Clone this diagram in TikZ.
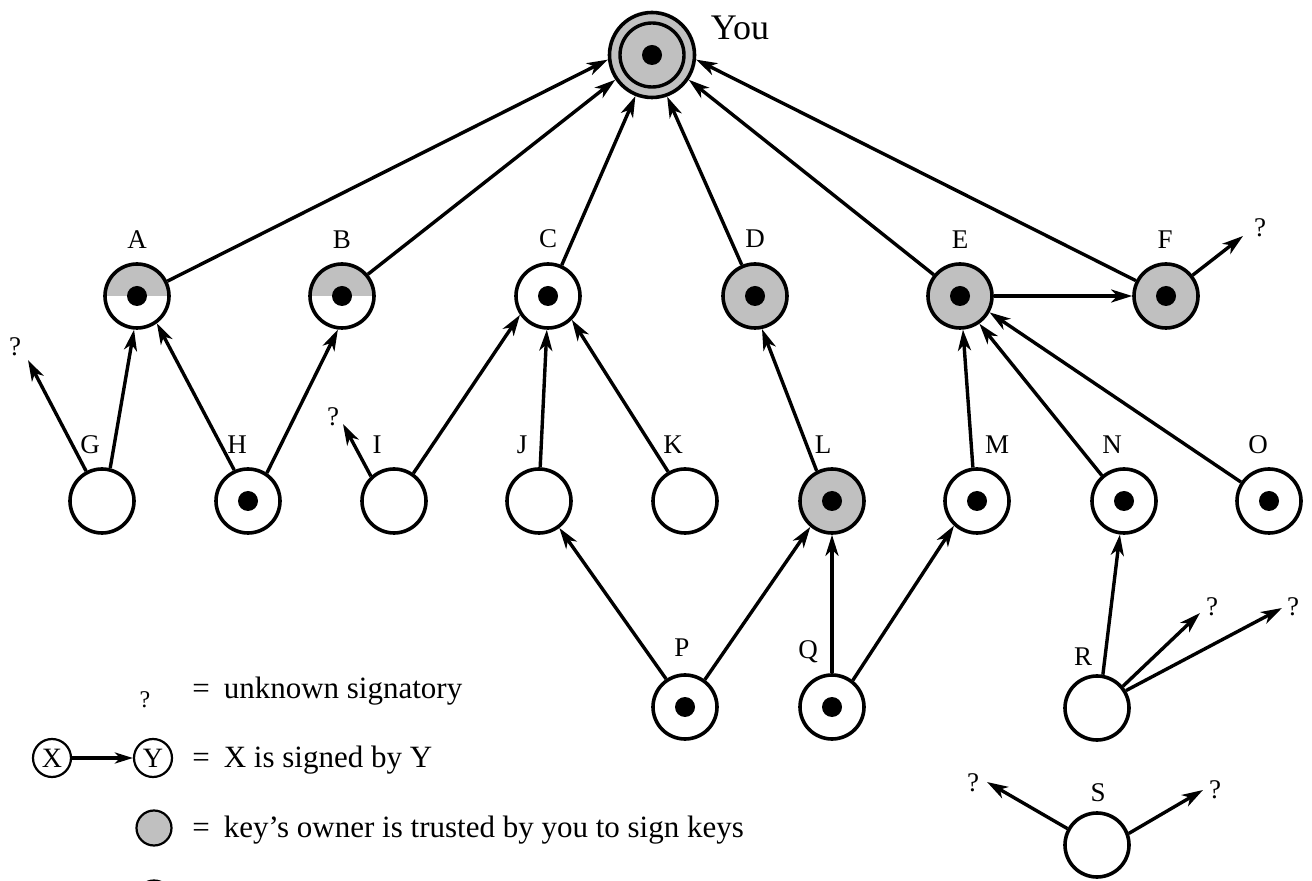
\documentclass[tikz,border=0pt]{standalone}
\usepackage{fontspec}
\setmainfont{Liberation Serif}
\usetikzlibrary{arrows.meta}
\definecolor{keygray}{RGB}{192,192,192}
\begin{document}
\begin{tikzpicture}[x=0.5pt,y=-0.5pt,
  keynode/.style={circle,draw,line width=1.8pt,minimum size=32pt,inner sep=0pt,fill=white},
  signedkey/.style={keynode,path picture={\fill[black] (path picture bounding box.center) circle (5pt);}},
  trustedkey/.style={signedkey,fill=keygray},
  halfkey/.style={keynode,path picture={\fill[keygray] (path picture bounding box.west) rectangle (path picture bounding box.north east);
      \fill[black] (path picture bounding box.center) circle (5pt);}},
  lbl/.style={font=\fontsize{13.5}{15}\selectfont,inner sep=0pt},
  qm/.style={font=\fontsize{13.5}{15}\selectfont,inner sep=0pt},
  legtext/.style={font=\fontsize{15.5}{18}\selectfont,inner sep=0pt,anchor=base west},
  legkey/.style={circle,draw,line width=1.1pt,minimum size=19pt,inner sep=0pt,font=\fontsize{14}{16}\selectfont},
  sig/.style={line width=1.7pt,-{Stealth[length=10.5pt,width=6.5pt,inset=3pt]}},
]
\useasboundingbox (0,0) rectangle (1312,881);

% You
\node[circle,draw,line width=1.8pt,minimum size=42.5pt,inner sep=0pt,fill=keygray,
  path picture={\draw[line width=1.7pt] (path picture bounding box.center) circle (16pt);
                \fill[black] (path picture bounding box.center) circle (5pt);}] (You) at (652,55) {};
\node[font=\fontsize{18}{20}\selectfont,inner sep=0pt] (youlbl) at (740,28) {You};

% top row
\node[halfkey]    (A) at (137,296) {};
\node[halfkey]    (B) at (342,296) {};
\node[signedkey]  (C) at (548,296) {};
\node[trustedkey] (D) at (755,296) {};
\node[trustedkey] (E) at (960,296) {};
\node[trustedkey] (F) at (1166,296) {};

% middle row
\node[keynode]    (G) at (102,501) {};
\node[signedkey]  (H) at (248,501) {};
\node[keynode]    (I) at (394,501) {};
\node[keynode]    (J) at (539,501) {};
\node[keynode]    (K) at (685,501) {};
\node[trustedkey] (L) at (832,501) {};
\node[signedkey]  (M) at (977,501) {};
\node[signedkey]  (N) at (1124,501) {};
\node[signedkey]  (O) at (1269,501) {};

% bottom
\node[signedkey] (P) at (685,707) {};
\node[signedkey] (Q) at (832,707) {};
\node[keynode]   (R) at (1097,708) {};
\node[keynode]   (S) at (1097,845) {};

% labels
\node[lbl] (lA) at (137,240) {A};
\node[lbl] (lB) at (342,240) {B};
\node[lbl] (lC) at (548,239) {C};
\node[lbl] (lD) at (755,239) {D};
\node[lbl] (lE) at (960,240) {E};
\node[lbl] (lF) at (1165,240) {F};
\node[lbl] (lG) at (90,445) {G};
\node[lbl] (lH) at (237,445) {H};
\node[lbl] (lI) at (377,445) {I};
\node[lbl] (lJ) at (522,445) {J};
\node[lbl] (lK) at (673,445) {K};
\node[lbl] (lL) at (823,445) {L};
\node[lbl] (lM) at (997,445) {M};
\node[lbl] (lN) at (1112,445) {N};
\node[lbl] (lO) at (1258,445) {O};
\node[lbl] (lP) at (682,648) {P};
\node[lbl] (lQ) at (808,652) {Q};
\node[lbl] (lR) at (1083,657) {R};
\node[lbl] (lS) at (1098,793) {S};

% question marks and arrow tips
\node[qm] (qG) at (15,347) {?};
\node[qm] (qI) at (333,417) {?};
\node[qm] (qF) at (1260,228) {?};
\node[qm] (qR1) at (1212,607) {?};
\node[qm] (qR2) at (1293,607) {?};
\node[qm] (qS1) at (973,783) {?};
\node[qm] (qS2) at (1215,790) {?};
\coordinate (tG) at (28,360);
\coordinate (tI) at (343,424);
\coordinate (tF) at (1243,236);
\coordinate (tR1) at (1200,613);
\coordinate (tR2) at (1282,608);
\coordinate (tS1) at (987,782);
\coordinate (tS2) at (1203,790);

% signatures
\draw[sig] (A.26)  -- (You.186);
\draw[sig] (B.40)  -- (You.214);
\draw[sig] (C.66)  -- (You.248);
\draw[sig] (D.113) -- (You.290);
\draw[sig] (E.141) -- (You.326);
\draw[sig] (F.153) -- (You.354);
\draw[sig] (E.east) -- (F.west);
\draw[sig] (F.38)  -- (tF);
\draw[sig] (G.118) -- (tG);
\draw[sig] (G.76)  -- (A.265);
\draw[sig] (H.114) -- (A.306);
\draw[sig] (H.56)  -- (B.263);
\draw[sig] (I.133) -- (tI);
\draw[sig] (I.55)  -- (C.214);
\draw[sig] (J.88)  -- (C.268);
\draw[sig] (K.120) -- (C.315);
\draw[sig] (L.117) -- (D.282);
\draw[sig] (M.97)  -- (E.275);
\draw[sig] (N.131) -- (E.305);
\draw[sig] (O.146) -- (E.331);
\draw[sig] (P.124) -- (J.307);
\draw[sig] (P.54)  -- (L.230);
\draw[sig] (Q.90)  -- (L.270);
\draw[sig] (Q.52)  -- (M.227);
\draw[sig] (R.80)  -- (N.263);
\draw[sig] (R.40)  -- (tR1);
\draw[sig] (R.31)  -- (tR2);
\draw[sig] (S.151) -- (tS1);
\draw[sig] (S.20)  -- (tS2);

% legend
\node[font=\fontsize{12}{14}\selectfont,inner sep=0pt] (legq) at (145,700) {?};
\node[legtext] (legt1) at (192,698) {=\hspace{0.45em}unknown signatory};
\node[legkey] (X) at (52,758) {X};
\node[legkey] (Y) at (153,758) {Y};
\draw[line width=1.6pt,-{Stealth[length=9pt,width=5.5pt,inset=2.5pt]}] (X) -- (Y);
\node[legtext] (legt2) at (192,767) {=\hspace{0.45em}X is signed by Y};
\node[circle,draw,line width=1.1pt,minimum size=17.5pt,inner sep=0pt,fill=keygray] (legg) at (154,828) {};
\node[legtext] (legt3) at (192,837) {=\hspace{0.45em}key's owner is trusted by you to sign keys};
\begin{scope}
\clip (0,0) rectangle (1312,881);
\node[circle,draw,line width=1.1pt,minimum size=17.5pt,inner sep=0pt,fill=white] (legh) at (154,898) {};
\end{scope}
\end{tikzpicture}
\end{document}
